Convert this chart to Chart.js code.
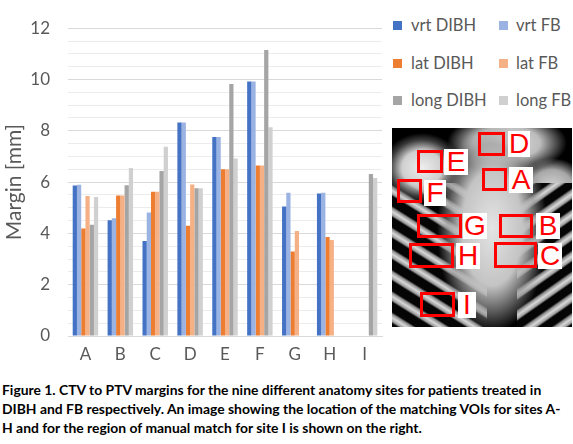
<!DOCTYPE html>
<html><head><meta charset="utf-8">
<script src="https://cdn.jsdelivr.net/npm/chart.js@4.4.0/dist/chart.umd.min.js"></script>
<style>
html,body{margin:0;padding:0;background:#fff;}
body{width:573px;height:444px;overflow:hidden;position:relative;font-family:Lato,'Open Sans',sans-serif;}
#wrap{position:absolute;left:0;top:0;width:392px;height:370px;}
.leg{position:absolute;font-size:16.5px;color:#595959;white-space:nowrap;line-height:20px;height:20px;}
.sw{position:absolute;width:9px;height:9px;}
#ct{position:absolute;left:392px;top:128px;width:180px;height:199px;overflow:hidden;background-color:#000;
 background-image:
 radial-gradient(ellipse closest-side, #e4e4e4 0%, #c4c4c4 55%, rgba(150,150,150,0.6) 80%, rgba(0,0,0,0) 100%),
 radial-gradient(ellipse closest-side, #eeeeee 0%, #cfcfcf 50%, rgba(120,120,120,0.5) 80%, rgba(0,0,0,0) 100%),
 radial-gradient(ellipse closest-side, #dddddd 0%, #bdbdbd 55%, rgba(0,0,0,0) 100%),
 repeating-linear-gradient(32deg, #050505 0px, #050505 8px, #9c9c9c 10px, #d8d8d8 13px, #909090 16px, #050505 18px),
 repeating-linear-gradient(-35deg, #050505 0px, #050505 7px, #a0a0a0 9px, #d8d8d8 12px, #8c8c8c 15px, #050505 17px),
 radial-gradient(ellipse closest-side, #d6d6d6 0%, #a8a8a8 60%, rgba(0,0,0,0) 100%);
 background-size: 110px 210px, 80px 70px, 120px 60px, 95px 150px, 55px 150px, 70px 60px;
 background-position: 45px -5px, -10px 5px, 55px -15px, 0px 55px, 125px 55px, 125px 30px;
 background-repeat:no-repeat;}
.rb{position:absolute;border:3px solid #f00;box-sizing:border-box;}
.lt{position:absolute;background:#fff;color:#f00;font-family:'Liberation Sans',Arial,sans-serif;font-size:28px;line-height:26px;height:26px;text-align:center;}
#cap{position:absolute;left:2px;top:380px;font-weight:bold;font-size:13.9px;line-height:19px;color:#000;white-space:nowrap;font-family:Lato,'Open Sans',sans-serif;}
</style></head>
<body>
<div id="wrap"><canvas id="c"></canvas></div>
<div id="legend"></div>
<div id="ct">
 <div class="rb" style="left:86px;top:4px;width:27px;height:24px"></div><div class="lt" style="left:116px;top:3px;width:22px">D</div>
 <div class="rb" style="left:25px;top:22px;width:26px;height:23px"></div><div class="lt" style="left:52px;top:21px;width:24px">E</div>
 <div class="rb" style="left:90px;top:40px;width:25px;height:23px"></div><div class="lt" style="left:117px;top:39px;width:24px">A</div>
 <div class="rb" style="left:5px;top:51px;width:25px;height:24px"></div><div class="lt" style="left:32px;top:52px;width:22px">F</div>
 <div class="rb" style="left:25px;top:86px;width:45px;height:24px"></div><div class="lt" style="left:71px;top:85px;width:24px">G</div>
 <div class="rb" style="left:107px;top:86px;width:34px;height:24px"></div><div class="lt" style="left:144px;top:85px;width:24px">B</div>
 <div class="rb" style="left:17px;top:115px;width:45px;height:25px"></div><div class="lt" style="left:64px;top:115px;width:24px">H</div>
 <div class="rb" style="left:102px;top:114px;width:43px;height:26px"></div><div class="lt" style="left:146px;top:115px;width:24px">C</div>
 <div class="rb" style="left:28px;top:164px;width:35px;height:25px"></div><div class="lt" style="left:66px;top:164px;width:18px">I</div>
</div>
<div id="cap">Figure 1. CTV to PTV margins for the nine different anatomy sites for patients treated in<br>DIBH and FB respectively. An image showing the location of the matching VOIs for sites A-<br>H and for the region of manual match for site I is shown on the right.</div>
<script>
const categories = ['A','B','C','D','E','F','G','H','I'];
const seriesNames = ['vrt DIBH','vrt FB','lat DIBH','lat FB','long DIBH','long FB'];
const vrtDIBH  = [5.87, 4.51, 3.70, 8.32, 7.76, 9.92, 5.05, 5.56, null];
const vrtFB    = [5.90, 4.59, 4.81, 8.32, 7.76, 9.92, 5.58, 5.58, null];
const latDIBH  = [4.19, 5.48, 5.62, 4.30, 6.50, 6.65, 3.29, 3.86, null];
const latFB    = [5.46, 5.48, 5.62, 5.91, 6.50, 6.65, 4.09, 3.74, null];
const longDIBH = [4.34, 5.88, 6.43, 5.76, 9.82, 11.15, null, null, 6.32];
const longFB   = [5.42, 6.55, 7.38, 5.76, 6.92, 8.14, null, null, 6.16];
const yTicks = [0, 2, 4, 6, 8, 10, 12];
const colors = ['#4472C4','#9AB3E2','#ED7D31','#F5B185','#A5A5A5','#D0D0D0'];
const values = [vrtDIBH, vrtFB, latDIBH, latFB, longDIBH, longFB];

const datasets = seriesNames.map((n,i)=>({label:n,data:values[i],backgroundColor:colors[i],borderWidth:0,categoryPercentage:0.73,barPercentage:1.0}));

const leg = document.getElementById('legend');
const rowsY = [25, 63, 100];
seriesNames.forEach((n,i)=>{
  const row = Math.floor(i/2), col = i%2;
  const bx = col===0 ? 393 : 499, tx = col===0 ? 411 : 516;
  const sw = document.createElement('div'); sw.className='sw';
  sw.style.left = bx+'px'; sw.style.top = (rowsY[row]-4.5)+'px'; sw.style.background = colors[i];
  const t = document.createElement('div'); t.className='leg';
  t.style.left = tx+'px'; t.style.top = (rowsY[row]-10)+'px'; t.textContent = n;
  leg.appendChild(sw); leg.appendChild(t);
});

new Chart(document.getElementById('c'), {
  type:'bar',
  data:{labels:categories, datasets},
  options:{
    responsive:true, maintainAspectRatio:false, animation:false,
    layout:{padding:{top:15,right:10,bottom:0,left:0}},
    plugins:{legend:{display:false},tooltip:{enabled:false}},
    scales:{
      x:{
        grid:{display:false,drawTicks:false},
        border:{display:true,color:'#D9D9D9'},
        ticks:{color:'#595959',font:{family:'Lato',size:17},padding:8},
        afterFit:(s)=>{s.height=34;}
      },
      y:{
        min:0,max:12,
        ticks:{stepSize:0.5,autoSkip:false,color:'#595959',font:{family:'Lato',size:17},padding:18,
          callback:(v)=> yTicks.includes(v) ? String(v) : ''},
        grid:{drawTicks:false,color:(ctx)=> (ctx.tick && yTicks.includes(ctx.tick.value)) ? '#D9D9D9' : '#ECECEC'},
        border:{display:false},
        title:{display:true,text:'Margin [mm]',color:'#595959',font:{family:'Lato',size:21},padding:{top:2,bottom:0}},
        afterFit:(s)=>{s.width=68;}
      }
    }
  }
});
</script>
</body></html>
